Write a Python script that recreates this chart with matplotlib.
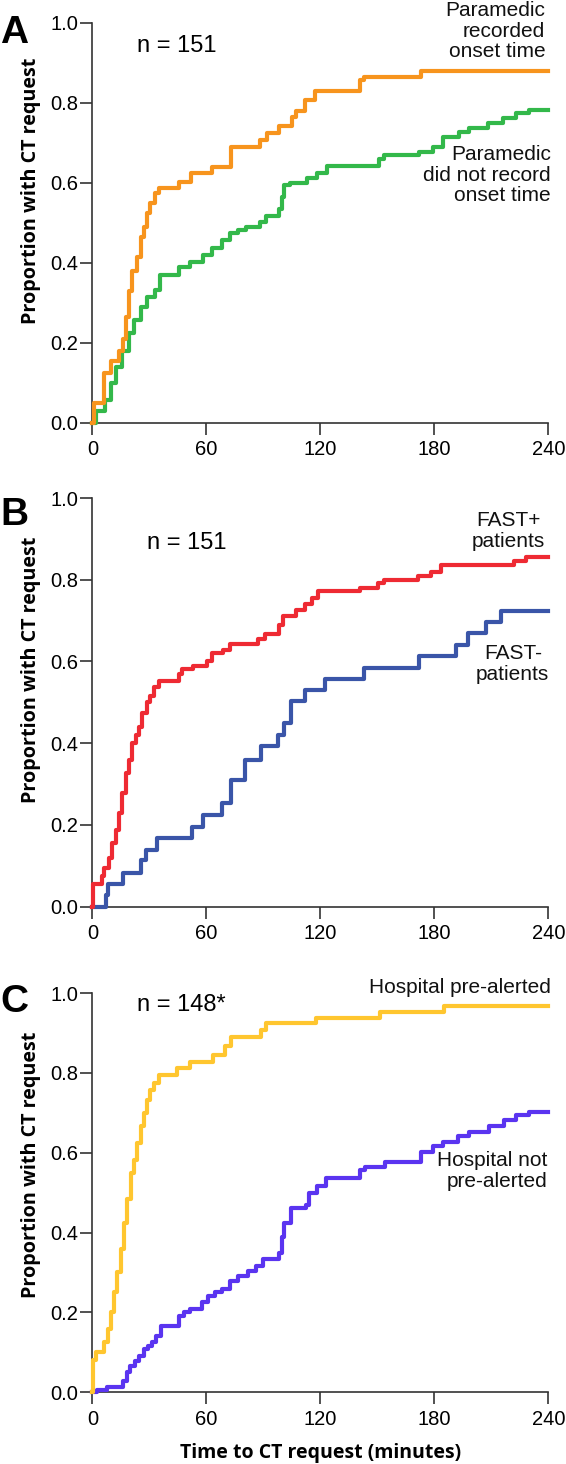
"""Cumulative proportion with CT request over time: three stacked step panels (A, B, C)."""

import matplotlib
matplotlib.use("Agg")
import matplotlib.pyplot as plt

# ---------------------------------------------------------------------------
# Data (step curves, value holds until next time)
# ---------------------------------------------------------------------------

# A: paramedic recorded onset time / did not record
a_rec_t = [0, 1, 6, 10, 14, 16, 17.6, 19.3, 21, 23.7, 25.4, 27.1, 28.9, 30.6, 33.2, 35,
           45.4, 52, 63, 73, 88, 92, 98, 105, 107, 112, 117, 141, 143, 173, 240]
a_rec_p = [0, 0.05, 0.125, 0.155, 0.18, 0.21, 0.265, 0.33, 0.38, 0.415, 0.465, 0.49, 0.525,
           0.55, 0.575, 0.587, 0.603, 0.625, 0.64, 0.69, 0.707, 0.725, 0.743, 0.765, 0.78,
           0.807, 0.83, 0.857, 0.865, 0.88, 0.88]
a_not_t = [0, 2, 6.5, 9.7, 12.3, 15.8, 19.3, 21.9, 25.4, 28.9, 33.2, 35.8, 45.4, 51.5, 58.4,
           62.8, 68, 72.4, 76.8, 81.1, 88.1, 91.6, 98.5, 100, 101, 104.3, 113, 118.4, 123.6,
           151, 153.5, 172, 179.3, 184.5, 193, 198, 208, 216, 222.8, 229.7, 240]
a_not_p = [0, 0.028, 0.057, 0.1, 0.14, 0.18, 0.225, 0.257, 0.29, 0.315, 0.333, 0.37, 0.39,
           0.403, 0.42, 0.437, 0.457, 0.475, 0.483, 0.49, 0.503, 0.518, 0.535, 0.565, 0.595,
           0.6, 0.612, 0.625, 0.642, 0.66, 0.67, 0.678, 0.69, 0.715, 0.728, 0.737, 0.75,
           0.762, 0.775, 0.783, 0.783]

# B: FAST+ / FAST- patients
b_pos_t = [0, 0.5, 5, 6.3, 8.8, 10.6, 12.3, 14.1, 15.8, 17.6, 19.3, 21, 22.8, 24.5, 26.2,
           28.9, 30.6, 32.3, 35, 45.4, 47.2, 53.2, 60.2, 62.8, 68.9, 72.4, 87.2, 90.7, 98.5,
           100.2, 107.1, 112, 115.5, 119, 141, 150.6, 153.5, 171.5, 178.4, 183.6, 221.9, 228,
           240]
b_pos_p = [0, 0.055, 0.075, 0.095, 0.12, 0.155, 0.188, 0.228, 0.278, 0.327, 0.36, 0.4, 0.42,
           0.44, 0.475, 0.5, 0.515, 0.537, 0.553, 0.57, 0.582, 0.59, 0.602, 0.62, 0.627,
           0.643, 0.655, 0.667, 0.69, 0.712, 0.727, 0.74, 0.755, 0.772, 0.78, 0.792, 0.8,
           0.809, 0.819, 0.835, 0.846, 0.855, 0.855]
b_neg_t = [0, 7, 8.5, 16.3, 25.8, 28, 34.1, 52.3, 58.4, 68, 73.2, 80.2, 88.9, 97.6, 101.1,
           104.5, 112, 122.6, 142.8, 172, 191.5, 197.6, 207, 215, 240]
b_neg_p = [0, 0.028, 0.056, 0.083, 0.114, 0.139, 0.168, 0.196, 0.225, 0.253, 0.31, 0.36,
           0.392, 0.42, 0.45, 0.503, 0.531, 0.558, 0.585, 0.613, 0.641, 0.67, 0.696, 0.723,
           0.723]

# C: hospital pre-alerted / not pre-alerted
c_pre_t = [0, 0.5, 2, 6.3, 8, 9.7, 11.5, 13.2, 15, 16.7, 18.4, 20.2, 21.9, 23.7, 25.4, 27.1,
           28.9, 30.6, 32.3, 35, 44.5, 51.5, 63.7, 69.8, 73.2, 88.9, 91.5, 117.6, 151.4,
           185.3, 240]
c_pre_p = [0, 0.08, 0.1, 0.125, 0.158, 0.2, 0.25, 0.3, 0.358, 0.425, 0.483, 0.55, 0.583,
           0.625, 0.667, 0.7, 0.733, 0.758, 0.775, 0.795, 0.812, 0.828, 0.845, 0.867, 0.89,
           0.907, 0.925, 0.937, 0.953, 0.968, 0.968]
c_not_t = [0, 2.3, 7.5, 16.2, 18, 20, 22.5, 24.5, 27, 29.5, 31.5, 33.5, 36, 45.4, 48, 51.5,
           57.6, 61, 64.5, 68, 72.4, 76.8, 82, 86.4, 89.8, 98.5, 100, 101.1, 104.5, 112.3,
           114, 118.4, 122.8, 141, 143.5, 154, 173.2, 179.3, 184.5, 192.4, 198.4, 208.8,
           216.7, 222.8, 229.7, 240]
c_not_p = [0, 0.005, 0.012, 0.028, 0.05, 0.066, 0.078, 0.091, 0.108, 0.116, 0.125, 0.141,
           0.166, 0.191, 0.2, 0.208, 0.225, 0.241, 0.25, 0.258, 0.278, 0.291, 0.303, 0.316,
           0.333, 0.35, 0.39, 0.425, 0.462, 0.47, 0.5, 0.516, 0.537, 0.557, 0.565, 0.578,
           0.603, 0.616, 0.628, 0.641, 0.653, 0.668, 0.683, 0.695, 0.703, 0.703]

x_ticks = [0, 60, 120, 180, 240]
y_ticks = [0.0, 0.2, 0.4, 0.6, 0.8, 1.0]

ORANGE = "#F7941D"
GREEN = "#33B84A"
RED = "#EE2A33"
BLUE = "#3A55A8"
YELLOW = "#FFC62F"
PURPLE = "#5A34F0"

TICK_FONT = "Liberation Sans"
LABEL_FONT = "Open Sans"

LEFT, WIDTH = 0.1631, 0.8057
PANELS = [(0.7113, 0.2730), (0.3807, 0.2791), (0.0490, 0.2727)]
YLABEL_X = -0.113


def _setup_axes(fig, rect):
    ax = fig.add_axes(rect)
    ax.set_xlim(0, 240)
    ax.set_ylim(0, 1.0)
    ax.set_xticks(x_ticks)
    ax.set_yticks(y_ticks)
    ax.set_yticklabels([f"{v:.1f}" for v in y_ticks])
    for side in ("top", "right"):
        ax.spines[side].set_visible(False)
    for side in ("left", "bottom"):
        ax.spines[side].set_linewidth(1.2)
        ax.spines[side].set_color("#333333")
    ax.tick_params(axis="both", direction="out", length=8.5, width=1.2, color="#333333",
                   labelsize=14.5)
    ax.tick_params(axis="y", pad=1.5)
    ax.tick_params(axis="x", pad=4)
    for lbl in ax.get_xticklabels() + ax.get_yticklabels():
        lbl.set_family(TICK_FONT)
    ax.set_ylabel("Proportion with CT request", fontsize=14.2, fontweight="bold",
                  family=LABEL_FONT)
    return ax


def _step(ax, t, p, color):
    ax.step(t, p, where="post", color=color, lw=3.0, clip_on=False, zorder=3)


fig = plt.figure(figsize=(5.66, 14.64), dpi=100)
axes = [_setup_axes(fig, [LEFT, b, WIDTH, h]) for b, h in PANELS]
txt = dict(fontsize=15, family=TICK_FONT, color="#111111", linespacing=1.1)

# --- Panel A ---
ax = axes[0]
_step(ax, a_not_t, a_not_p, GREEN)
_step(ax, a_rec_t, a_rec_p, ORANGE)
ax.text(0.098, 0.942, "n = 151", transform=ax.transAxes, ha="left", va="center",
        fontsize=17, family=TICK_FONT)
ax.text(0.993, 0.979, "Paramedic\nrecorded\nonset time", transform=ax.transAxes,
        ha="right", va="center", multialignment="right", **txt)
ax.text(1.006, 0.619, "Paramedic\ndid not record\nonset time", transform=ax.transAxes,
        ha="right", va="center", multialignment="right", **txt)
ax.yaxis.set_label_coords(YLABEL_X, 0.58)

# --- Panel B ---
ax = axes[1]
_step(ax, b_neg_t, b_neg_p, BLUE)
_step(ax, b_pos_t, b_pos_p, RED)
ax.text(0.12, 0.89, "n = 151", transform=ax.transAxes, ha="left", va="center",
        fontsize=17, family=TICK_FONT)
ax.text(0.912, 0.919, "FAST+\npatients", transform=ax.transAxes,
        ha="center", va="center", multialignment="center", **txt)
ax.text(0.922, 0.594, "FAST-\npatients", transform=ax.transAxes,
        ha="center", va="center", multialignment="center", **txt)
ax.yaxis.set_label_coords(YLABEL_X, 0.58)

# --- Panel C ---
ax = axes[2]
_step(ax, c_not_t, c_not_p, PURPLE)
_step(ax, c_pre_t, c_pre_p, YELLOW)
ax.text(0.098, 0.97, "n = 148*", transform=ax.transAxes, ha="left", va="center",
        fontsize=17, family=TICK_FONT)
ax.text(1.006, 1.015, "Hospital pre-alerted", transform=ax.transAxes,
        ha="right", va="center", **txt)
ax.text(0.997, 0.554, "Hospital not\npre-alerted", transform=ax.transAxes,
        ha="right", va="center", multialignment="right", **txt)
ax.yaxis.set_label_coords(YLABEL_X, 0.57)
ax.set_xlabel("Time to CT request (minutes)", fontsize=14, fontweight="bold",
              family=LABEL_FONT)
ax.xaxis.set_label_coords(0.5, -0.128)

# panel letters
for letter, y in zip("ABC", [0.9706, 0.6414, 0.3087]):
    fig.text(0.0247, y, letter, ha="center", va="baseline", fontsize=28,
             fontweight="bold", family=TICK_FONT)

fig.savefig("out.png", dpi=100)
print("Saved: out.png")
